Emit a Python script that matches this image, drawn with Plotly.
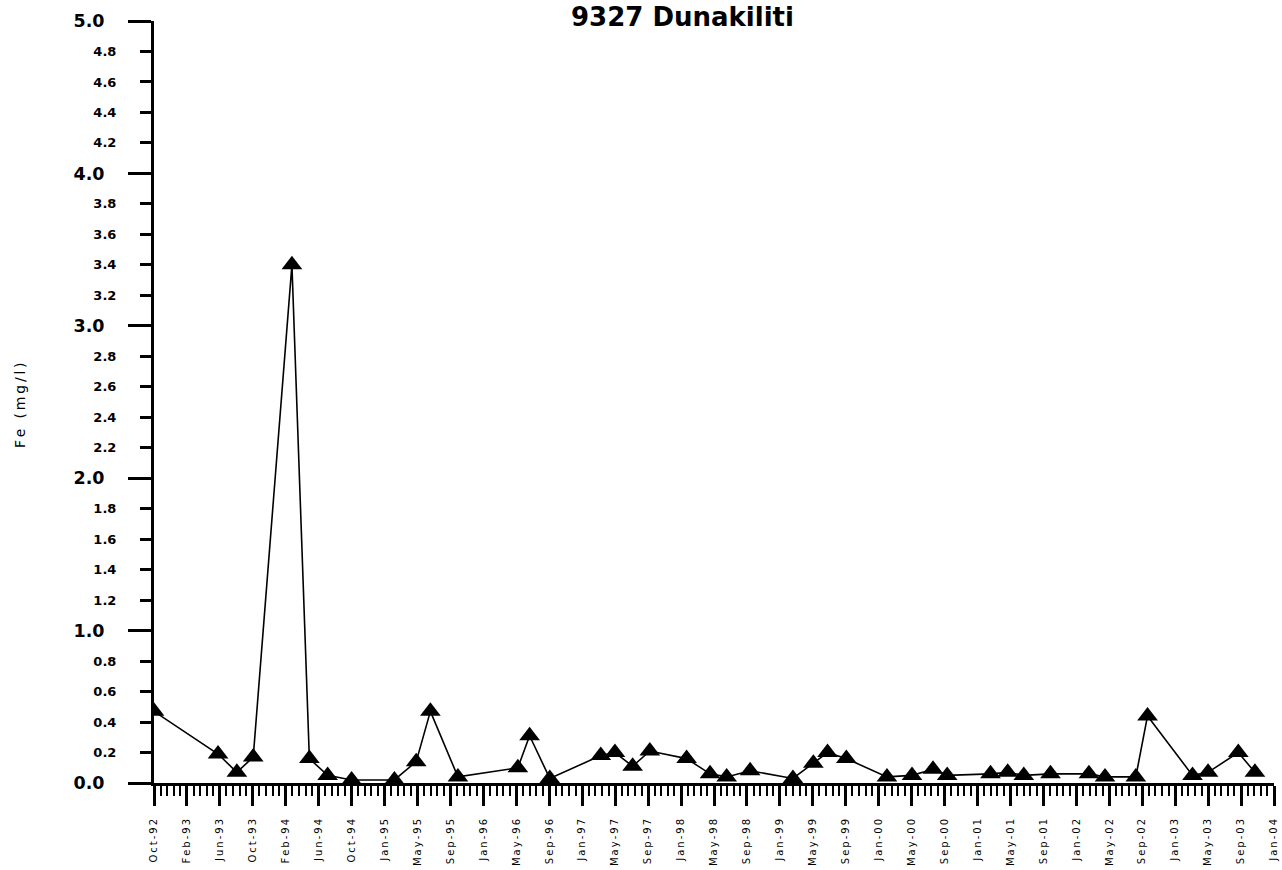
import pandas as pd
import plotly.graph_objects as go

# Fe concentration at station 9327 Dunakiliti
sample_dates = [
    "1992-10-01", "1993-05-24", "1993-08-01", "1993-09-30", "1994-02-19",
    "1994-04-24", "1994-06-30", "1994-09-26", "1995-03-02", "1995-05-21",
    "1995-07-12", "1995-10-21", "1996-05-28", "1996-07-10", "1996-09-22",
    "1997-03-28", "1997-05-19", "1997-07-23", "1997-09-24", "1998-02-06",
    "1998-05-03", "1998-07-03", "1998-09-27", "1999-03-03", "1999-05-17",
    "1999-07-08", "1999-09-15", "2000-02-11", "2000-05-13", "2000-07-29",
    "2000-09-19", "2001-02-25", "2001-04-29", "2001-06-27", "2001-10-03",
    "2002-02-21", "2002-04-21", "2002-08-12", "2002-09-24", "2003-03-08",
    "2003-05-04", "2003-08-23", "2003-10-23",
]
fe_mg_l = [
    0.47, 0.19, 0.07, 0.17, 3.40,
    0.16, 0.05, 0.02, 0.02, 0.14,
    0.47, 0.04, 0.10, 0.31, 0.03,
    0.18, 0.20, 0.11, 0.21, 0.16,
    0.06, 0.04, 0.08, 0.03, 0.13,
    0.20, 0.16, 0.04, 0.05, 0.09,
    0.05, 0.06, 0.07, 0.05, 0.06,
    0.06, 0.04, 0.04, 0.44, 0.05,
    0.07, 0.20, 0.07,
]

x_tick_labels = [
    "Oct-92", "Feb-93", "Jun-93", "Oct-93", "Feb-94", "Jun-94", "Oct-94",
    "Jan-95", "May-95", "Sep-95", "Jan-96", "May-96", "Sep-96", "Jan-97",
    "May-97", "Sep-97", "Jan-98", "May-98", "Sep-98", "Jan-99", "May-99",
    "Sep-99", "Jan-00", "May-00", "Sep-00", "Jan-01", "May-01", "Sep-01",
    "Jan-02", "May-02", "Sep-02", "Jan-03", "May-03", "Sep-03", "Jan-04",
]
y_major = [0, 1, 2, 3, 4, 5]
y_minor = [0.2, 0.4, 0.6, 0.8, 1.2, 1.4, 1.6, 1.8, 2.2, 2.4, 2.6, 2.8,
           3.2, 3.4, 3.6, 3.8, 4.2, 4.4, 4.6, 4.8]

axis_start = pd.Timestamp("1992-10-01")
axis_end = pd.Timestamp("2004-01-01")
n_int = len(x_tick_labels) - 1
step = (axis_end - axis_start) / n_int
x_tickvals = [(axis_start + i * step).strftime("%Y-%m-%d %H:%M:%S") for i in range(n_int + 1)]
minor_ms = (step / 5).total_seconds() * 1000


def spread(s):
    """Letter-spaced text, as used for the axis lettering."""
    return "\u2009".join(list(s))


FONT = "DejaVu Sans, Verdana, sans-serif"

fig = go.Figure()
fig.add_trace(go.Scatter(
    x=sample_dates, y=fe_mg_l, mode="lines+markers",
    line=dict(color="black", width=1.6),
    marker=dict(symbol="triangle-up", size=18, color="black"),
    showlegend=False, hoverinfo="x+y",
))
# helper trace so the secondary (minor label) axis is drawn
fig.add_trace(go.Scatter(x=[None], y=[None], yaxis="y2", showlegend=False,
                         hoverinfo="skip"))

L, R, T, B = 154, 8, 21, 87
W, H = 1282, 870

fig.update_layout(
    width=W, height=H,
    margin=dict(l=L, r=R, t=T, b=B),
    paper_bgcolor="white", plot_bgcolor="white",
    font=dict(family=FONT, color="black"),
    xaxis=dict(
        type="date", automargin=False,
        range=[axis_start.strftime("%Y-%m-%d"), axis_end.strftime("%Y-%m-%d")],
        tickmode="array", tickvals=x_tickvals,
        ticktext=[spread(t) for t in x_tick_labels],
        tickangle=-90, tickfont=dict(size=10, family=FONT),
        ticks="outside", ticklen=20, tickwidth=2.5, tickcolor="black",
        ticklabelstandoff=9,
        minor=dict(tick0=axis_start.strftime("%Y-%m-%d"), dtick=minor_ms,
                   ticks="outside", ticklen=10, tickwidth=2, tickcolor="black"),
        showline=True, linewidth=3, linecolor="black",
        showgrid=False, zeroline=False,
    ),
    yaxis=dict(
        range=[0, 5], automargin=False, tickmode="array", tickvals=y_major,
        ticktext=[f"{v:.1f}" for v in y_major],
        tickfont=dict(size=17.5, family=FONT, weight="bold"),
        ticks="outside", ticklen=23, tickwidth=2.5, tickcolor="black",
        ticklabelstandoff=20,
        showline=True, linewidth=3, linecolor="black",
        showgrid=False, zeroline=False,
    ),
    yaxis2=dict(
        range=[0, 5], automargin=False, overlaying="y", anchor="x", side="left",
        tickmode="array", tickvals=y_minor,
        ticktext=[f"{v:.1f}" for v in y_minor],
        tickfont=dict(size=13, family=FONT, weight="bold"),
        ticks="outside", ticklen=13, tickwidth=2.5, tickcolor="black",
        ticklabelstandoff=21,
        showline=False, showgrid=False, zeroline=False,
    ),
)

pw, ph = W - L - R, H - T - B
fig.add_annotation(
    text="<b>9327 Dunakiliti</b>", xref="paper", yref="paper",
    x=(682 - L) / pw, y=(H - B - 17) / ph, xanchor="center", yanchor="middle",
    showarrow=False, font=dict(size=26, family=FONT),
)
fig.add_annotation(
    text=spread("Fe (mg/l)"), xref="paper", yref="paper",
    x=(20 - L) / pw, y=(H - B - 405) / ph, xanchor="center", yanchor="middle",
    textangle=-90, showarrow=False, font=dict(size=14, family=FONT),
)

fig.write_html("out.html")
